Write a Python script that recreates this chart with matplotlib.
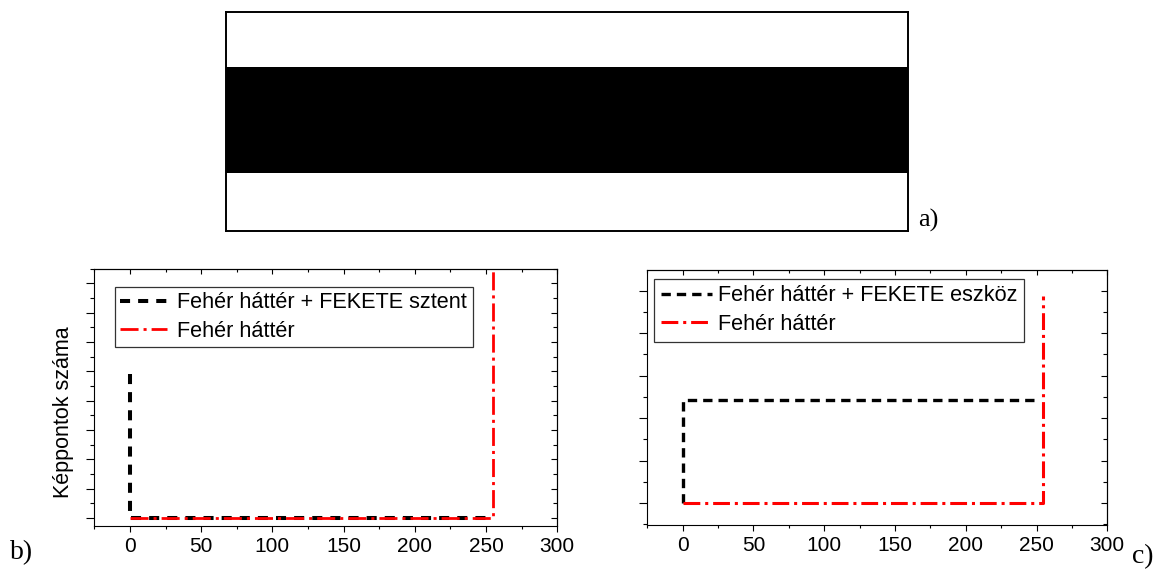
import matplotlib
matplotlib.use('Agg')
from matplotlib import pyplot as plt
from matplotlib.ticker import MultipleLocator

# a) test image: horizontal stripes (fraction of image height, bottom -> top)
stripe_edges = [0.0, 0.265, 0.75, 1.0]
stripe_colors = ['white', 'black', 'white']

# b) histogram, stent (arbitrary units)
b_black_x = [0, 0, 255]
b_black_y = [4.9, 0, 0]
b_red_x = [0, 255, 255]
b_red_y = [0, 0, 20]

# c) histogram, device
c_black_x = [0, 0, 250]
c_black_y = [0, 2.43, 2.43]
c_red_x = [0, 254.5, 254.5]
c_red_y = [0, 0, 4.87]

b_labels = ['Fehér háttér + FEKETE sztent', 'Fehér háttér']
c_labels = ['Fehér háttér + FEKETE eszköz', 'Fehér háttér']
xticks = [0, 50, 100, 150, 200, 250, 300]

plt.rcParams['font.family'] = ['Liberation Sans', 'DejaVu Sans']

fig = plt.figure(figsize=(11.59, 5.70), dpi=100)

# --- a) ---
ax_a = fig.add_axes([0.195, 0.5947, 0.5884, 0.384])
for i, col in enumerate(stripe_colors):
    ax_a.axhspan(stripe_edges[i], stripe_edges[i + 1], color=col, lw=0)
ax_a.set_ylim(0, 1)
ax_a.set_xticks([])
ax_a.set_yticks([])
for s in ax_a.spines.values():
    s.set_linewidth(1.4)
fig.text(0.8007, 0.614, 'a)', family='Liberation Serif', fontsize=19,
         ha='center', va='center')


def style_hist(ax, ymax, ymin):
    ax.set_xlim(-25, 300)
    ax.set_ylim(ymin, ymax)
    ax.xaxis.set_minor_locator(MultipleLocator(25))
    ax.yaxis.set_major_locator(MultipleLocator(1))
    ax.yaxis.set_minor_locator(MultipleLocator(0.5))
    ax.set_xticks(xticks)
    ax.tick_params(axis='x', which='major', direction='out', length=4.3, width=0.8,
                   labelsize=15, pad=3.5)
    ax.tick_params(axis='x', which='minor', direction='out', length=2.4, width=0.8)
    ax.tick_params(axis='y', which='major', direction='out', length=5.8, width=0.8,
                   labelleft=False)
    ax.tick_params(axis='y', which='minor', direction='out', length=3, width=0.8)
    for s in ax.spines.values():
        s.set_linewidth(0.8)
    top = ax.secondary_xaxis('top')
    top.xaxis.set_major_locator(MultipleLocator(50))
    top.xaxis.set_minor_locator(MultipleLocator(25))
    top.tick_params(which='major', direction='in', length=3.6, width=0.8, labeltop=False)
    top.tick_params(which='minor', direction='in', length=2, width=0.8)
    right = ax.secondary_yaxis('right')
    right.yaxis.set_major_locator(MultipleLocator(1))
    right.yaxis.set_minor_locator(MultipleLocator(0.5))
    right.tick_params(which='major', direction='in', length=4.5, width=0.8,
                      labelright=False)
    right.tick_params(which='minor', direction='in', length=2.8, width=0.8)


# --- b) ---
ax_b = fig.add_axes([0.08136, 0.07772, 0.39948, 0.45088])
ax_b.plot(b_black_x, b_black_y, color='black', lw=2.9, linestyle=(0, (2.5, 2.0)),
          label=b_labels[0])
ax_b.plot(b_red_x, b_red_y, color='red', lw=2.0, linestyle=(0, (6.5, 1.8, 1.1, 1.8)),
          label=b_labels[1])
style_hist(ax_b, 8.5, -0.26)
fig.text(0.0546, 0.2777, 'Képpontok száma', fontsize=15.5, rotation=90,
         ha='center', va='center')
leg = ax_b.legend(loc='upper left', bbox_to_anchor=(0.0447, 0.930), fontsize=15.6,
                  frameon=True, fancybox=False, edgecolor='black', handlelength=2.17,
                  handletextpad=0.46, borderpad=0.25, labelspacing=0.35,
                  borderaxespad=0)
leg.get_frame().set_linewidth(0.9)
fig.text(0.01855, 0.030, 'b)', family='Liberation Serif', fontsize=20,
         ha='center', va='center')

# --- c) ---
ax_c = fig.add_axes([0.5585, 0.07895, 0.39689, 0.44737])
ax_c.plot(c_black_x, c_black_y, color='black', lw=2.4, linestyle=(0, (2.8, 1.8)),
          label=c_labels[0])
ax_c.plot(c_red_x, c_red_y, color='red', lw=2.2, linestyle=(0, (5.5, 1.6, 1.0, 1.6)),
          label=c_labels[1])
style_hist(ax_c, 5.49, -0.52)
leg = ax_c.legend(loc='upper left', bbox_to_anchor=(0.0152, 0.9647), fontsize=15.6,
                  frameon=True, fancybox=False, edgecolor='black', handlelength=2.35,
                  handletextpad=0.28, borderpad=0.3, labelspacing=0.35,
                  borderaxespad=0)
leg.get_frame().set_linewidth(0.9)
fig.text(0.9862, 0.0228, 'c)', family='Liberation Serif', fontsize=20,
         ha='center', va='center')

fig.savefig('out.png', dpi=100)
